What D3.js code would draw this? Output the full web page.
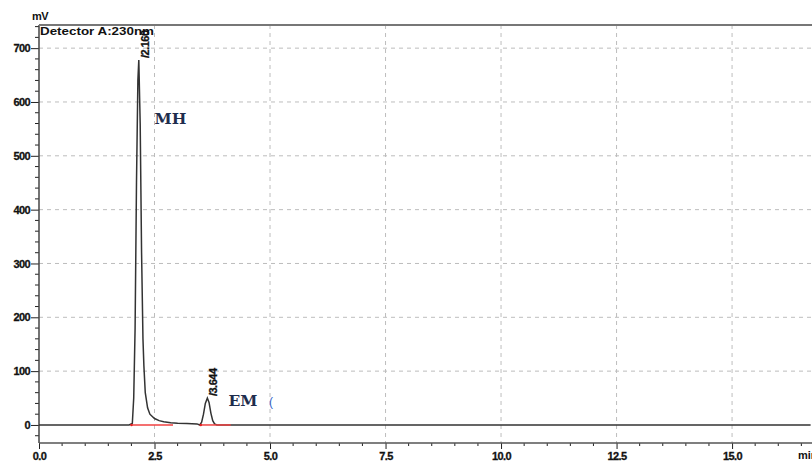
<!DOCTYPE html>
<html><head><meta charset="utf-8">
<script src="https://cdn.jsdelivr.net/npm/d3@7/dist/d3.min.js"></script>
<style>body{margin:0;background:#fff}svg{display:block}</style>
</head><body>
<svg id="c" width="812" height="464"></svg>
<script>
const times = [0, 1.95, 2.02, 2.05, 2.08, 2.11, 2.14, 2.16, 2.19, 2.22, 2.25, 2.27, 2.3, 2.35, 2.4, 2.5, 2.6, 2.7, 2.85, 3.0, 3.2, 3.42, 3.48, 3.52, 3.56, 3.6, 3.644, 3.68, 3.72, 3.76, 3.8, 3.85, 4.0, 16.7];
const signal = [0, 0, 3, 50, 180, 450, 640, 678, 560, 320, 160, 110, 60, 32, 20, 12, 8, 6, 4, 3, 2.5, 2, 0, 5, 20, 40, 50, 42, 22, 8, 2, 0, 0, 0];
const peakTimes = [2.16, 3.644];
const peakHeights = [678, 50];
const peakLabels = ["2.160", "3.644"];
const baselines = [[2.0, 2.9], [3.5, 4.15]];
const xTicks = [0, 2.5, 5, 7.5, 10, 12.5, 15];
const yTicks = [0, 100, 200, 300, 400, 500, 600, 700];
const compounds = [{name:"MH", t:2.5, v:560}, {name:"EM", t:4.1, v:36}];

const svg = d3.select("#c");
const L = 39, T = 25, B = 443, R = 812;
const x = d3.scaleLinear().domain([0, 16.73]).range([L, R]);
const y = d3.scaleLinear().domain([-33.5, 743]).range([B, T]);
const font = "'Liberation Sans', Arial, sans-serif";

// grid
const g = svg.append("g");
g.selectAll(".vg").data(xTicks.filter(d => d > 0)).join("line")
  .attr("x1", d => x(d)).attr("x2", d => x(d)).attr("y1", T).attr("y2", B)
  .attr("stroke", "#bdbdbd").attr("stroke-dasharray", "4,4").attr("stroke-width", 1);
g.selectAll(".hg").data(yTicks.filter(d => d > 0)).join("line")
  .attr("x1", L).attr("x2", R).attr("y1", d => y(d)).attr("y2", d => y(d))
  .attr("stroke", "#bdbdbd").attr("stroke-dasharray", "4,4").attr("stroke-width", 1);

// axes
const yAxis = d3.axisLeft(y).tickValues(yTicks).tickSize(8).tickFormat(d3.format("d"));
const ya = svg.append("g").attr("transform", `translate(${L},0)`).call(yAxis);
ya.select(".domain").remove();
const yMinor = d3.range(-20, 741, 20).filter(d => d % 100 !== 0);
svg.append("g").selectAll("line").data(yMinor).join("line")
  .attr("x1", L - 4).attr("x2", L).attr("y1", d => y(d)).attr("y2", d => y(d)).attr("stroke", "#222");

const xAxis = d3.axisBottom(x).tickValues(xTicks).tickSize(6).tickFormat(d3.format(".1f"));
const xa = svg.append("g").attr("transform", `translate(0,${B})`).call(xAxis);
xa.select(".domain").remove();
const xMinor = d3.range(0.5, 16.7, 0.5).filter(d => Math.abs(d / 2.5 - Math.round(d / 2.5)) > 1e-6);
svg.append("g").selectAll("line").data(xMinor).join("line")
  .attr("x1", d => x(d)).attr("x2", d => x(d)).attr("y1", B).attr("y2", B + 3).attr("stroke", "#222");

[ya, xa].forEach(a => {
  a.selectAll("line").attr("stroke", "#222");
  a.selectAll("text").attr("font-family", font).attr("font-weight", "bold")
    .attr("font-size", 11).attr("fill", "#111").attr("stroke", "#111").attr("stroke-width", 0.3)
    .style("letter-spacing", "-0.6px");
});
ya.selectAll("text").attr("x", -9);
xa.selectAll("text").attr("y", 9);

// frame lines
svg.append("line").attr("x1", L).attr("x2", L).attr("y1", T).attr("y2", B).attr("stroke", "#444").attr("stroke-width", 1.5);
svg.append("line").attr("x1", L).attr("x2", R).attr("y1", B).attr("y2", B).attr("stroke", "#555").attr("stroke-width", 1.3);
svg.append("line").attr("x1", L).attr("x2", R).attr("y1", T).attr("y2", T).attr("stroke", "#777").attr("stroke-width", 2.2);

// chromatogram
const line = d3.line().x((d, i) => x(times[i])).y(d => y(d));
svg.append("path").datum(signal).attr("d", line)
  .attr("fill", "none").attr("stroke", "#333").attr("stroke-width", 1.5);

// baselines
svg.append("g").selectAll("line").data(baselines).join("line")
  .attr("x1", d => x(d[0])).attr("x2", d => x(d[1])).attr("y1", y(0)).attr("y2", y(0))
  .attr("stroke", "#f04040").attr("stroke-width", 1.5);
svg.append("g").selectAll("circle").data(baselines).join("circle")
  .attr("cx", d => x(d[0])).attr("cy", y(0)).attr("r", 1.3).attr("fill", "#e02020");

// peak labels
svg.append("g").selectAll("text").data(peakTimes).join("text")
  .attr("transform", (d, i) => `translate(${x(d) + 10},${y(peakHeights[i]) - 2}) rotate(-90)`)
  .attr("font-family", font).attr("font-weight", "bold").attr("font-size", 11)
  .attr("fill", "#111").attr("stroke", "#111").attr("stroke-width", 0.3).style("letter-spacing", "-0.5px")
  .text((d, i) => "/" + peakLabels[i]);

// compound labels
svg.append("g").selectAll("text").data(compounds).join("text")
  .attr("x", d => x(d.t)).attr("y", d => y(d.v))
  .attr("font-family", "'DejaVu Serif', 'Liberation Serif', serif").attr("font-size", 15.5)
  .attr("font-weight", "bold").attr("fill", "#1f2d4d").text(d => d.name);
svg.append("text").attr("x", x(5.0)-1).attr("y", y(36)).attr("font-family", font).attr("font-size", 12).attr("fill", "#3366cc").text("(");

// titles
svg.append("text").attr("x", 32).attr("y", 20).attr("font-family", font).attr("font-weight", "bold")
  .attr("font-size", 11).attr("fill", "#111").style("letter-spacing", "-0.6px").text("mV");
svg.append("text").attr("x", 40).attr("y", 35).attr("font-family", font).attr("font-weight", "bold")
  .attr("font-size", 10.5).attr("fill", "#111").attr("textLength", 114).attr("lengthAdjust", "spacingAndGlyphs").text("Detector A:230nm");
svg.append("text").attr("x", 798).attr("y", 459).attr("font-family", font).attr("font-weight", "bold")
  .attr("font-size", 11).attr("fill", "#111").text("min");
</script>
</body></html>
